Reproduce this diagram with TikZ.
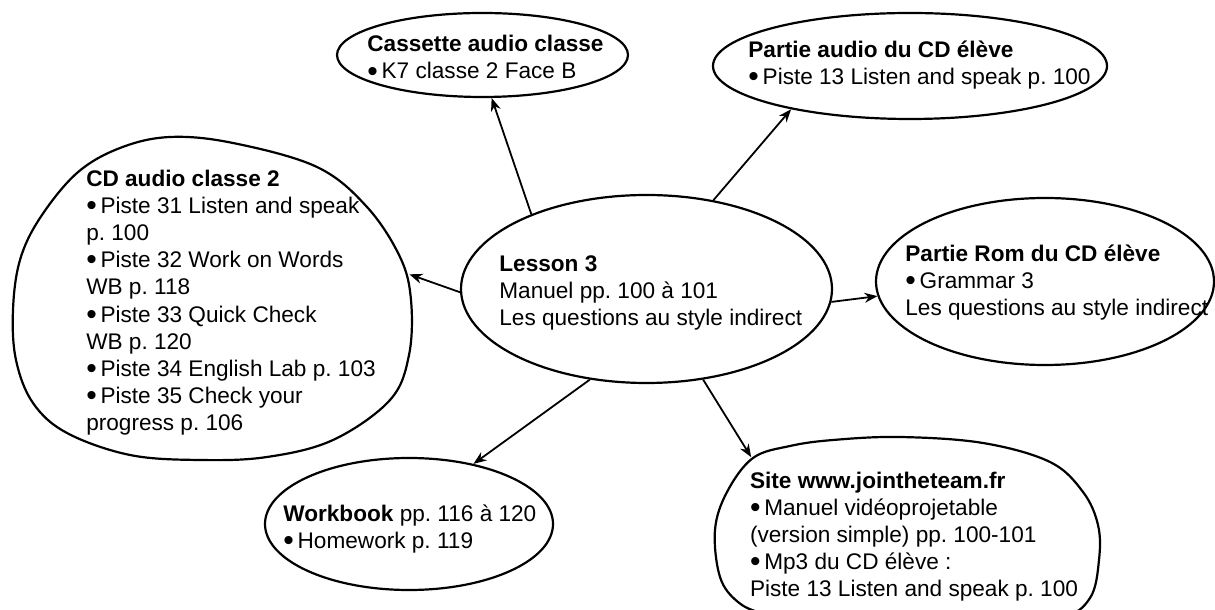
\documentclass[tikz,border=0pt]{standalone}
\usepackage{fontspec}
\setmainfont{Liberation Sans}
\usetikzlibrary{shapes.geometric,arrows.meta}
\frenchspacing
\newcommand{\mapfont}{\fontsize{11.3}{13.6}\selectfont}
\newcommand{\bul}{\raisebox{-0.1em}{\fontsize{15}{15}\selectfont\textbullet}\,}
\tikzset{
  % Resource bubble: plain ellipse, text set apart
  bubble/.style={draw, ellipse, line width=1.1pt, inner sep=0pt},
  % Free-hand outline round a long list
  blob/.style={draw, line width=1.1pt},
  % Text block inside a bubble
  txt/.style={align=left, inner sep=0pt, font=\mapfont, anchor=west},
  % Link from the lesson to a resource
  link/.style={-{Stealth[length=6.5pt,width=5pt]}, line width=0.9pt}
}
\begin{document}
\begin{tikzpicture}[x=0.5pt, y=0.5pt]
\useasboundingbox (0,0) rectangle (1215,610);

% Centre: the lesson
\node[bubble, minimum width=185.5pt, minimum height=94pt] (lesson) at (646.5,321) {};
\node[txt] (lessontxt) at (499,316.8)
  {\textbf{Lesson 3}\\Manuel pp. 100 à 101\\Les questions au style indirect};

% Top row
\node[bubble, minimum width=145.5pt, minimum height=42pt] (cas) at (482.5,555) {};
\node[txt] (castxt) at (367,551.7)
  {\textbf{Cassette audio classe}\\\bul K7 classe 2 Face B};
\node[bubble, minimum width=197pt, minimum height=53pt] (aud) at (910,544) {};
\node[txt] (audtxt) at (748,544.9)
  {\textbf{Partie audio du CD élève}\\\bul Piste 13 Listen and speak p. 100};

% Right and bottom
\node[bubble, minimum width=169pt, minimum height=83.5pt] (rom) at (1045,328.5) {};
\node[txt] (romtxt) at (905,327.4)
  {\textbf{Partie Rom du CD élève}\\\bul Grammar 3\\Les questions au style indirect};
\node[bubble, minimum width=144pt, minimum height=66pt] (wb) at (409,86) {};
\node[txt] (wbtxt) at (283,80.9)
  {\textbf{Workbook} pp. 116 à 120\\\bul Homework p. 119};

% Left list in a blob
\draw[blob] plot[smooth cycle, tension=0.6] coordinates {
  (170,473) (233,467) (317,443) (367,403) (400,353) (411,310) (409,255)
  (390,210) (333,170) (267,153) (200,150) (130,155) (67,177) (33,207)
  (16,250) (13,300) (20,350) (40,392) (77,437) (120,462)};
\node[txt, anchor=center, minimum width=178pt] (cd) at (231,307.4)
  {\textbf{CD audio classe 2}\\
   \bul Piste 31 Listen and speak\\p. 100\\
   \bul Piste 32 Work on Words\\WB p. 118\\
   \bul Piste 33 Quick Check\\WB p. 120\\
   \bul Piste 34 English Lab p. 103\\
   \bul Piste 35 Check your\\progress p. 106};

% Web site in a blob
\draw[blob] plot[smooth cycle, tension=0.6] coordinates {
  (715,80) (727,118) (753,152) (790,164) (833,170) (900,173) (983,167)
  (1050,148) (1083,118) (1098,85) (1099,50) (1090,12) (1060,-8) (980,-16)
  (900,-18) (820,-15) (765,-4) (738,8) (720,33)};
\node[txt, anchor=center, minimum height=79pt] (site) at (914,73.4)
  {\textbf{Site www.jointheteam.fr}\\
   \bul Manuel vidéoprojetable\\(version simple) pp. 100-101\\
   \bul Mp3 du CD élève :\\Piste 13 Listen and speak p. 100};

% Links
\draw[link] (lesson.147) -- (cas.282);
\draw[link] (lesson.53) -- (aud.200);
\draw[link] (lesson.181) -- (cd.9);
\draw[link] (lesson.356) -- (rom.185);
\draw[link] (lesson.238) -- (wb.43);
\draw[link] (lesson.302) -- (site.154);

\end{tikzpicture}
\end{document}
